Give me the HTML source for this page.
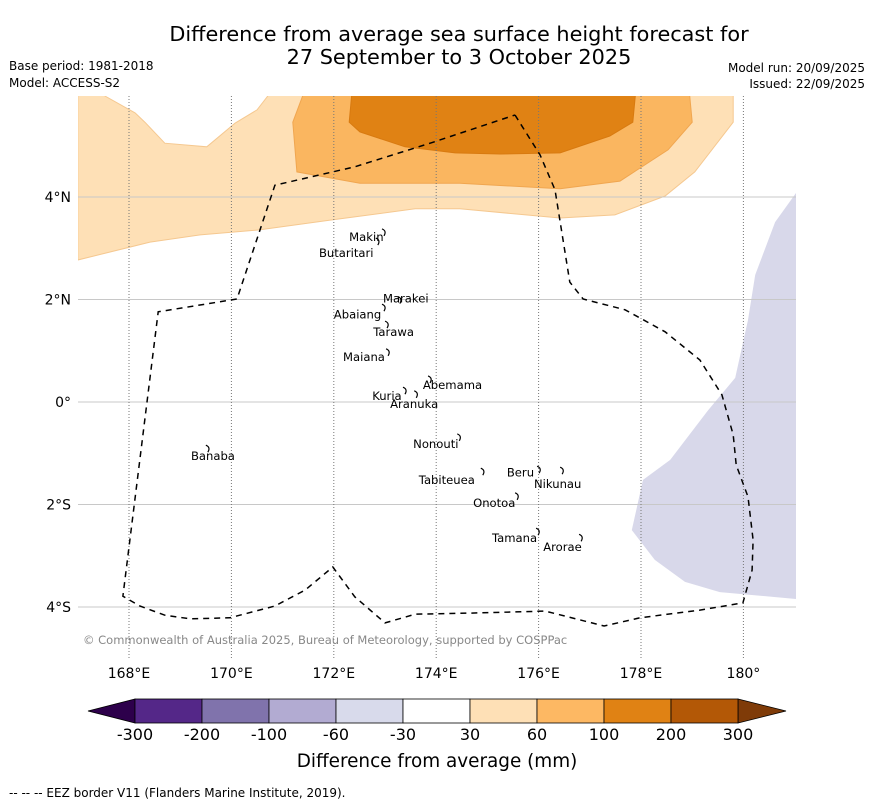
<!DOCTYPE html>
<html><head><meta charset="utf-8">
<style>
html,body{margin:0;padding:0;background:#fff;}
svg{display:block;font-family:"DejaVu Sans","Liberation Sans",sans-serif;}
</style></head>
<body>
<svg id="chart" width="873" height="804" viewBox="0 0 873 804" xmlns="http://www.w3.org/2000/svg">
<defs><clipPath id="mapclip"><rect x="78" y="96" width="718" height="562"/></clipPath></defs>
<text x="459" y="41" text-anchor="middle" font-size="20.8" fill="#000">Difference from average sea surface height forecast for</text>
<text x="459" y="64" text-anchor="middle" font-size="20.8" fill="#000">27 September to 3 October 2025</text>
<text x="9" y="70" font-size="12">Base period: 1981-2018</text>
<text x="9" y="87" font-size="12">Model: ACCESS-S2</text>
<text x="865" y="72" font-size="12" text-anchor="end">Model run: 20/09/2025</text>
<text x="865" y="88" font-size="12" text-anchor="end">Issued: 22/09/2025</text>
<g id="map" clip-path="url(#mapclip)"></g>
<g id="axes"></g>
<g id="cbar"></g>
<text x="437" y="767" text-anchor="middle" font-size="18.4">Difference from average (mm)</text>
<text x="9" y="797" font-size="12">--  --  -- EEZ border V11 (Flanders Marine Institute, 2019).</text>
</svg>
<script>
const lonTicks=[168,170,172,174,176,178,180];
const lonLabels=["168°E","170°E","172°E","174°E","176°E","178°E","180°"];
const latTicks=[4,2,0,-2,-4];
const latLabels=["4°N","2°N","0°","2°S","4°S"];
const contour30=[[167,6.1],[167.53,6.1],[167.53,5.97],[168.12,5.64],[168.31,5.46],[168.7,5.05],[169.52,4.98],[170.07,5.44],[170.5,5.7],[170.71,5.97],[170.71,6.1],[179.8,6.1],[179.8,5.46],[179.05,4.49],[178.47,4.02],[177.49,3.65],[176.42,3.59],[174.46,3.77],[173.59,3.77],[171.93,3.55],[170.56,3.36],[169.39,3.26],[168.41,3.12],[167,2.77]];
const contour60=[[171.44,6.1],[171.2,5.46],[171.28,4.49],[172.51,4.27],[174.46,4.27],[176.42,4.16],[177.59,4.31],[178.53,4.92],[179.0,5.46],[178.94,6.1]];
const contour100=[[172.36,6.1],[172.3,5.46],[172.51,5.27],[173.39,4.98],[174.37,4.86],[175.25,4.84],[176.42,4.86],[177.39,5.19],[177.84,5.46],[177.9,6.1]];
const contourNeg30=[[181.2,4.08],[181.03,4.08],[180.62,3.51],[180.23,2.48],[180.09,1.6],[179.84,0.47],[179.31,-0.16],[178.57,-1.13],[178.04,-1.52],[177.82,-2.5],[178.27,-3.08],[178.86,-3.51],[179.54,-3.71],[181.2,-3.86]];
const eez=[[175.54,5.6],[176.03,4.82],[176.32,4.14],[176.61,2.34],[176.87,2.01],[177.69,1.8],[178.47,1.37],[179.15,0.82],[179.58,0.14],[179.8,-0.64],[179.86,-1.23],[180.09,-1.85],[180.19,-2.69],[180.17,-3.28],[179.99,-3.92],[179.15,-4.06],[177.98,-4.21],[177.28,-4.37],[176.13,-4.08],[174.66,-4.12],[173.59,-4.14],[173.0,-4.31],[172.41,-3.8],[171.98,-3.22],[171.44,-3.67],[170.85,-3.98],[169.97,-4.21],[169.19,-4.23],[168.7,-4.16],[168.21,-3.98],[167.88,-3.79],[168.57,1.76],[170.11,2.01],[170.85,4.23],[172.41,4.59],[173.88,5.05],[175.54,5.6]];
const islandNames=["Makin","Butaritari","Marakei","Abaiang","Tarawa","Maiana","Abemama","Kuria","Aranuka","Nonouti","Banaba","Beru","Nikunau","Tabiteuea","Onotoa","Tamana","Arorae"];
const labelLon=[172.30,171.71,172.96,172.00,172.77,172.18,173.74,172.75,173.10,173.55,169.21,175.38,175.91,173.66,174.72,175.09,176.09];
const labelLat=[3.22,2.91,2.02,1.71,1.37,0.88,0.33,0.12,-0.04,-0.82,-1.05,-1.38,-1.60,-1.52,-1.97,-2.65,-2.83];
const islandLon=[172.98,172.86,173.29,172.98,173.04,173.06,173.88,173.39,173.61,174.45,169.54,176.01,176.46,174.91,175.58,175.99,176.83];
const islandLat=[3.30,3.12,1.98,1.83,1.50,0.96,0.43,0.21,0.14,-0.70,-0.92,-1.33,-1.35,-1.37,-1.85,-2.54,-2.66];
const cbBounds=["-300","-200","-100","-60","-30","30","60","100","200","300"];
const cbColors=["#542788","#8073ac","#b2abd2","#d8daeb","#ffffff","#fee0b6","#fdb863","#e08214","#b35806"];
const NS="http://www.w3.org/2000/svg";
const px=lon=>129+(lon-168)*51.2;
const py=lat=>402-lat*51.25;
function mk(tag,attrs,parent){const e=document.createElementNS(NS,tag);for(const k in attrs)e.setAttribute(k,attrs[k]);parent.appendChild(e);return e;}
const map=document.getElementById('map');
const axes=document.getElementById('axes');
const cbar=document.getElementById('cbar');
const pts=a=>a.map(p=>px(p[0]).toFixed(1)+','+py(p[1]).toFixed(1)).join(' ');
let e;
e=mk('polygon',{points:pts(contour30),fill:'#fee0b6',stroke:'#f5c890','stroke-width':1},map);


e=mk('polygon',{points:pts(contour60),fill:'#fab660',stroke:'#f0a650','stroke-width':1},map);


e=mk('polygon',{points:pts(contour100),fill:'#e08214',stroke:'#d87a10','stroke-width':1},map);


e=mk('polygon',{points:pts(contourNeg30),fill:'#d8d8ea',stroke:'none'},map);


latTicks.forEach((t,i)=>{
  const l=mk('line',{x1:78,x2:796,y1:py(t),y2:py(t),stroke:'#c8c8c8','stroke-width':1},map);
  
  
  const tx=mk('text',{x:71,y:py(t)+5,'text-anchor':'end','font-size':14},axes);
  tx.textContent=latLabels[i];
  
  
});
lonTicks.forEach((t,i)=>{
  const l=mk('line',{x1:px(t),x2:px(t),y1:96,y2:658,stroke:'#777','stroke-width':1,'stroke-dasharray':'1,2'},map);
  
  
  const tx=mk('text',{x:px(t),y:678,'text-anchor':'middle','font-size':14},axes);
  tx.textContent=lonLabels[i];
  
  
});
e=mk('polyline',{points:pts(eez),fill:'none',stroke:'#000','stroke-width':1.5,'stroke-dasharray':'6,5'},map);


islandNames.forEach((n,i)=>{
  const x=px(islandLon[i]),y=py(islandLat[i]);
  const m=mk('path',{d:`M${x-2},${y-4} q5,2 2,7`,fill:'none',stroke:'#000','stroke-width':1.2},map);
  
  
  const tx=mk('text',{x:px(labelLon[i]),y:py(labelLat[i])+4,'font-size':11.6},map);
  tx.textContent=n;
  
  
});
e=mk('text',{x:83,y:644,'font-size':11.5,fill:'#888'},map);
e.textContent='© Commonwealth of Australia 2025, Bureau of Meteorology, supported by COSPPac';


const cbX0=135,cbX1=738,cbY=699,cbH=24,n=cbColors.length,w=(cbX1-cbX0)/n;
e=mk('polygon',{points:`${cbX0},${cbY} ${cbX0},${cbY+cbH} 88,${cbY+cbH/2}`,fill:'#2d004b',stroke:'#000','stroke-width':0.8},cbar);


e=mk('polygon',{points:`${cbX1},${cbY} ${cbX1},${cbY+cbH} 786,${cbY+cbH/2}`,fill:'#7f3b08',stroke:'#000','stroke-width':0.8},cbar);


cbColors.forEach((c,i)=>{
  const r=mk('rect',{x:cbX0+i*w,y:cbY,width:w,height:cbH,fill:c,stroke:'#000','stroke-width':0.8},cbar);
  
  
});
cbBounds.forEach((b,i)=>{
  const tx=mk('text',{x:cbX0+i*w,y:740,'text-anchor':'middle','font-size':16},cbar);
  tx.textContent=b;
  
  
});
</script>
</body></html>
